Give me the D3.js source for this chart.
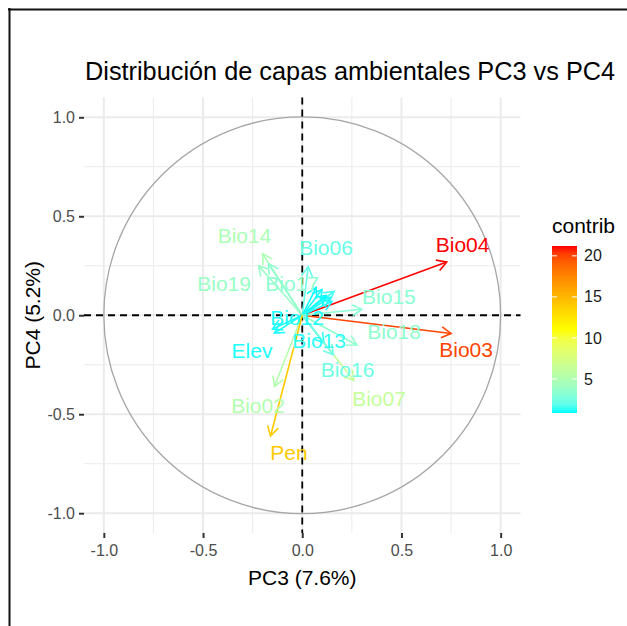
<!DOCTYPE html>
<html>
<head>
<meta charset="utf-8">
<script src="https://cdn.jsdelivr.net/npm/d3@7"></script>
<style>
  html, body { margin: 0; padding: 0; background: #fff; }
  svg { display: block; }
  text { font-family: "Liberation Sans", Arial, Helvetica, sans-serif; }
</style>
</head>
<body>
<svg id="chart" width="627" height="626"></svg>
<script>
// Variable loadings on PC3 / PC4 and their contribution (%)
const variables = ["Bio01","Bio02","Bio03","Bio04","Bio05","Bio06","Bio07","Bio08","Bio09","Bio10",
                   "Bio11","Bio12","Bio13","Bio14","Bio15","Bio16","Bio17","Bio18","Bio19","Elev","Pen"];
const pc3 = [0.16, -0.14, 0.75, 0.728, 0.14, 0.03, 0.26, 0.12, 0.10, 0.15,
             0.07, -0.15, 0.11, -0.20, 0.30, 0.157, -0.17, 0.275, -0.22, -0.14, -0.16];
const pc4 = [0.12, -0.36, -0.092, 0.269, 0.09, 0.245, -0.33, 0.10, 0.13, 0.07,
             0.14, -0.07, -0.14, 0.31, 0.03, -0.20, 0.26, -0.15, 0.25, -0.09, -0.61];
const contrib = [1.41, 5.2, 20.1, 21.2, 0.97, 2.1, 6.2, 0.85, 0.95, 0.96,
                 0.87, 0.96, 1.12, 4.8, 3.2, 2.3, 3.4, 3.5, 3.9, 0.98, 14.0];

const axisTicks = [-1, -0.5, 0, 0.5, 1];
const minorTicks = [-0.75, -0.25, 0.25, 0.75];
const legendTicks = [5, 10, 15, 20];
const gradientColors = ["cyan", "yellow", "red"];

const titleText = "Distribución de capas ambientales PC3 vs PC4";
const xTitle = "PC3 (7.6%)";
const yTitle = "PC4 (5.2%)";
const legendTitle = "contrib";

// Repelled label placement (label centre, in loading units); null = label dropped
const labelPlacement = {
  Bio02: [-0.223, -0.457], Bio03: [0.826, -0.172], Bio04: [0.808, 0.357],
  Bio06: [0.120, 0.341],   Bio07: [0.387, -0.419], Bio12: [-0.026, -0.012],
  Bio13: [0.085, -0.128],  Bio14: [-0.291, 0.401], Bio15: [0.437, 0.094],
  Bio16: [0.228, -0.273],  Bio17: [-0.051, 0.161], Bio18: [0.463, -0.084],
  Bio19: [-0.394, 0.161],  Elev: [-0.253, -0.180],  Pen: [-0.067, -0.693]
};

const svg = d3.select("#chart");
svg.append("rect").attr("width", 627).attr("height", 626).attr("fill", "#fff");

// frame edges
svg.append("line").attr("x1", 8).attr("x2", 627).attr("y1", 9.5).attr("y2", 9.5)
  .attr("stroke", "#111").attr("stroke-width", 2);
svg.append("line").attr("x1", 9.5).attr("x2", 9.5).attr("y1", 8).attr("y2", 626)
  .attr("stroke", "#111").attr("stroke-width", 2);

const panel = { left: 84, right: 520.5, top: 97.5, bottom: 533 };
const x = d3.scaleLinear().domain([-1.1, 1.1]).range([panel.left, panel.right]);
const y = d3.scaleLinear().domain([-1.1, 1.1]).range([panel.bottom, panel.top]);

const extent = d3.extent(contrib);
const color = d3.scaleLinear()
  .domain([extent[0], (extent[0] + extent[1]) / 2, extent[1]])
  .range(gradientColors)
  .interpolate(d3.interpolateLab);

// grid
const grid = svg.append("g");
grid.selectAll(".minx").data(minorTicks).join("line")
  .attr("x1", d => x(d)).attr("x2", d => x(d)).attr("y1", panel.top).attr("y2", panel.bottom)
  .attr("stroke", "#ebebeb").attr("stroke-width", 1);
grid.selectAll(".miny").data(minorTicks).join("line")
  .attr("y1", d => y(d)).attr("y2", d => y(d)).attr("x1", panel.left).attr("x2", panel.right)
  .attr("stroke", "#ebebeb").attr("stroke-width", 1);
grid.selectAll(".majx").data(axisTicks).join("line")
  .attr("x1", d => x(d)).attr("x2", d => x(d)).attr("y1", panel.top).attr("y2", panel.bottom)
  .attr("stroke", "#ebebeb").attr("stroke-width", 2);
grid.selectAll(".majy").data(axisTicks).join("line")
  .attr("y1", d => y(d)).attr("y2", d => y(d)).attr("x1", panel.left).attr("x2", panel.right)
  .attr("stroke", "#ebebeb").attr("stroke-width", 2);

// correlation circle
svg.append("circle").attr("cx", x(0)).attr("cy", y(0)).attr("r", x(1) - x(0))
  .attr("fill", "none").attr("stroke", "#a6a6a6").attr("stroke-width", 1.3);

// reference lines
svg.append("line").attr("x1", panel.left).attr("x2", panel.right).attr("y1", y(0)).attr("y2", y(0))
  .attr("stroke", "#000").attr("stroke-width", 1.8).attr("stroke-dasharray", "7,5");
svg.append("line").attr("x1", x(0)).attr("x2", x(0)).attr("y1", panel.top).attr("y2", panel.bottom)
  .attr("stroke", "#000").attr("stroke-width", 1.8).attr("stroke-dasharray", "7,5");

// axes
const fmt = d => d.toFixed(1);
const xAxis = svg.append("g").attr("transform", `translate(0,${panel.bottom})`)
  .call(d3.axisBottom(x).tickValues(axisTicks).tickFormat(fmt).tickSize(5).tickPadding(7));
const yAxis = svg.append("g").attr("transform", `translate(${panel.left},0)`)
  .call(d3.axisLeft(y).tickValues(axisTicks).tickFormat(fmt).tickSize(5).tickPadding(4));
[xAxis, yAxis].forEach(g => {
  g.select(".domain").remove();
  g.selectAll(".tick line").attr("stroke", "#333").attr("stroke-width", 2);
  g.selectAll(".tick text").attr("fill", "#4d4d4d").attr("font-size", 16)
    .attr("font-family", "Liberation Sans, Arial, sans-serif");
});

// arrows
const rows = variables.map((v, i) => ({ name: v, px: pc3[i], py: pc4[i], c: contrib[i] }));
const headLen = 11, headAng = Math.PI / 6;
const arrows = svg.append("g");
rows.forEach(d => {
  const x0 = x(0), y0 = y(0), x1 = x(d.px), y1 = y(d.py);
  const a = Math.atan2(y1 - y0, x1 - x0);
  const h1 = [x1 - headLen * Math.cos(a - headAng), y1 - headLen * Math.sin(a - headAng)];
  const h2 = [x1 - headLen * Math.cos(a + headAng), y1 - headLen * Math.sin(a + headAng)];
  arrows.append("line").attr("x1", x0).attr("y1", y0).attr("x2", x1).attr("y2", y1)
    .attr("stroke", color(d.c)).attr("stroke-width", 1.6);
  arrows.append("path").attr("d", `M${h1[0]},${h1[1]}L${x1},${y1}L${h2[0]},${h2[1]}`)
    .attr("fill", "none").attr("stroke", color(d.c)).attr("stroke-width", 1.6);
});

// labels
const labels = svg.append("g");
rows.filter(d => labelPlacement[d.name]).forEach(d => {
  const p = labelPlacement[d.name];
  labels.append("text").attr("x", x(p[0])).attr("y", y(p[1])).attr("dy", "0.35em")
    .attr("text-anchor", "middle").attr("font-size", 21).attr("fill", color(d.c))
    .text(d.name);
});

// titles
svg.append("text").attr("x", panel.left + 1).attr("y", 80).attr("font-size", 25.3).attr("fill", "#000")
  .text(titleText);
svg.append("text").attr("x", x(0)).attr("y", 585).attr("text-anchor", "middle")
  .attr("font-size", 21).attr("fill", "#000").text(xTitle);
svg.append("text").attr("transform", `translate(40,${y(0)}) rotate(-90)`).attr("text-anchor", "middle")
  .attr("font-size", 21).attr("fill", "#000").text(yTitle);

// colour bar legend
const bar = { x: 552, w: 25, top: 246, bottom: 413 };
const ly = d3.scaleLinear().domain(extent).range([bar.bottom, bar.top]);
const defs = svg.append("defs");
const grad = defs.append("linearGradient").attr("id", "contribGrad")
  .attr("x1", 0).attr("x2", 0).attr("y1", 1).attr("y2", 0);
d3.range(0, 1.0001, 0.05).forEach(t => {
  grad.append("stop").attr("offset", t)
    .attr("stop-color", color(extent[0] + t * (extent[1] - extent[0])));
});
svg.append("text").attr("x", bar.x).attr("y", 233).attr("font-size", 21).attr("fill", "#000")
  .text(legendTitle);
svg.append("rect").attr("x", bar.x).attr("y", bar.top).attr("width", bar.w)
  .attr("height", bar.bottom - bar.top).attr("fill", "url(#contribGrad)");
const lt = svg.append("g");
legendTicks.forEach(v => {
  lt.append("line").attr("x1", bar.x).attr("x2", bar.x + bar.w / 5).attr("y1", ly(v)).attr("y2", ly(v))
    .attr("stroke", "#fff").attr("stroke-width", 1);
  lt.append("line").attr("x1", bar.x + bar.w).attr("x2", bar.x + bar.w * 4 / 5).attr("y1", ly(v)).attr("y2", ly(v))
    .attr("stroke", "#fff").attr("stroke-width", 1);
  lt.append("text").attr("x", bar.x + bar.w + 7).attr("y", ly(v)).attr("dy", "0.35em")
    .attr("font-size", 16).attr("fill", "#1a1a1a").text(v);
});
</script>
</body>
</html>
